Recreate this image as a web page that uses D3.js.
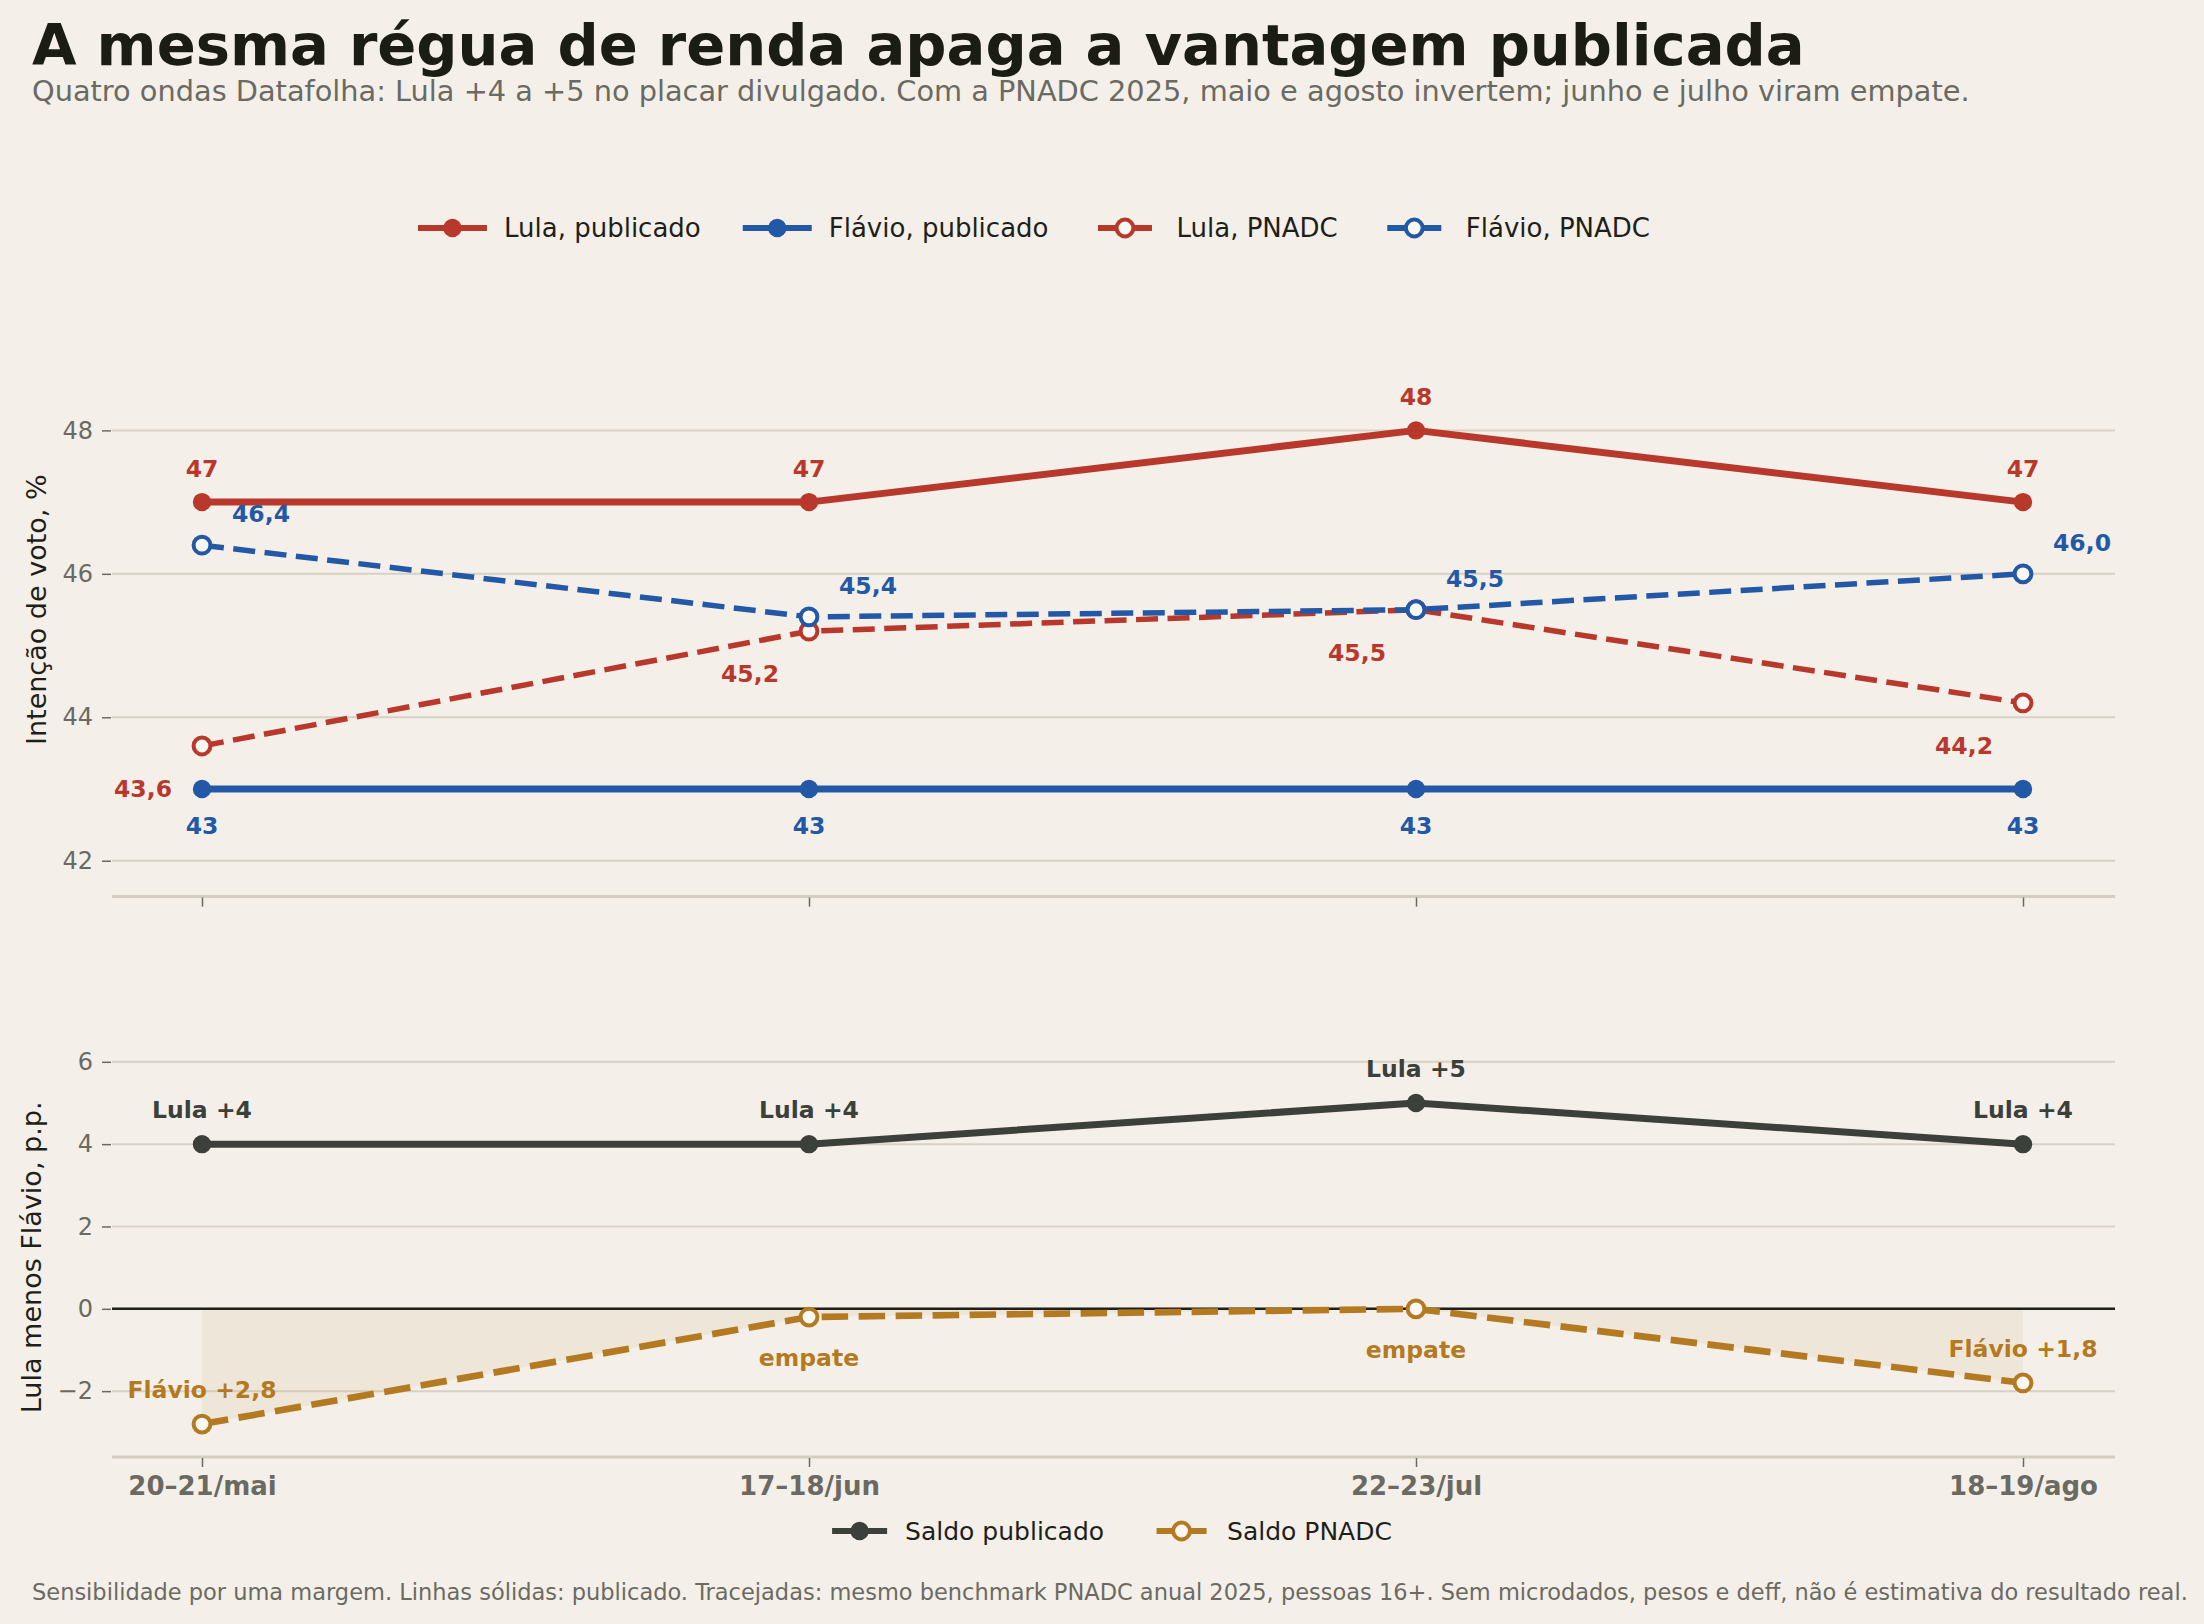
<!DOCTYPE html>
<html>
<head>
<meta charset="utf-8">
<script src="https://cdn.jsdelivr.net/npm/d3@7"></script>
<style>
  body { margin: 0; background: #f4f0e9; }
  text { font-family: "DejaVu Sans", sans-serif; }
</style>
</head>
<body>
<div id="chart"></div>
<script>
const width = 2204;
const height = 1624;

// data
const waves = ["20–21/mai", "17–18/jun", "22–23/jul", "18–19/ago"];
const lulaPublicado = [47, 47, 48, 47];
const flavioPublicado = [43, 43, 43, 43];
const lulaPnadc = [43.6, 45.2, 45.5, 44.2];
const flavioPnadc = [46.4, 45.4, 45.5, 46.0];
const saldoPublicado = [4, 4, 5, 4];
const saldoPnadc = [-2.8, -0.2, 0.0, -1.8];
const topTicks = [42, 44, 46, 48];
const bottomTicks = [-2, 0, 2, 4, 6];

const bg = "#f4f0e9";
const red = "#b9382c";
const blue = "#2358a6";
const dark = "#3c403a";
const gold = "#b47a22";
const grid = "#d9d1c4";
const gray = "#6b6a62";

const plotLeft = 112;
const plotRight = 2115;

const x = d3.scalePoint()
    .domain(waves)
    .range([202, 2023]);

const yTop = d3.scaleLinear()
    .domain([41.5, 49.5])
    .range([896.6, 322.8]);

const yBot = d3.scaleLinear()
    .domain([-3.6, 6.1])
    .range([1457, 1057.7]);

const comma = v => d3.format(".1f")(v).replace(".", ",");

const svg = d3.select("#chart")
    .append("svg")
        .attr("width", width)
        .attr("height", height)
        .style("background", bg);

// title + subtitle
svg.append("text")
    .attr("x", 32).attr("y", 65)
    .attr("font-size", 57.6).attr("font-weight", "bold")
    .attr("fill", "#1b1c14")
    .text("A mesma régua de renda apaga a vantagem publicada");

svg.append("text")
    .attr("x", 32).attr("y", 101)
    .attr("font-size", 28.8)
    .attr("fill", gray)
    .text("Quatro ondas Datafolha: Lula +4 a +5 no placar divulgado. Com a PNADC 2025, maio e agosto invertem; junho e julho viram empate.");

svg.append("text")
    .attr("x", 32).attr("y", 1600)
    .attr("font-size", 22.5)
    .attr("fill", gray)
    .text("Sensibilidade por uma margem. Linhas sólidas: publicado. Tracejadas: mesmo benchmark PNADC anual 2025, pessoas 16+. Sem microdados, pesos e deff, não é estimativa do resultado real.");

// panel frame helper
function panel(y, ticks, yLabel, labelX, showXLabels) {
    const g = svg.append("g");
    g.selectAll(".grid")
        .data(ticks)
        .join("line")
            .attr("x1", plotLeft).attr("x2", plotRight)
            .attr("y1", d => y(d)).attr("y2", d => y(d))
            .attr("stroke", grid).attr("stroke-width", 2);

    const yAxis = g.append("g")
        .attr("transform", `translate(${plotLeft - 1},0)`)
        .call(d3.axisLeft(y).tickValues(ticks).tickSize(9).tickPadding(9));
    yAxis.select(".domain").remove();
    yAxis.selectAll("line").attr("stroke", gray).attr("stroke-width", 1.5);
    yAxis.selectAll("text")
        .attr("font-size", 24).attr("fill", gray)
        .attr("font-family", "DejaVu Sans");

    const base = y.range()[0];
    g.append("line")
        .attr("x1", plotLeft).attr("x2", plotRight)
        .attr("y1", base).attr("y2", base)
        .attr("stroke", "#d5cdbf").attr("stroke-width", 3);

    const xAxis = g.append("g")
        .attr("transform", `translate(0,${base + 1})`)
        .call(d3.axisBottom(x).tickSize(9).tickPadding(10)
            .tickFormat(showXLabels ? null : ""));
    xAxis.select(".domain").remove();
    xAxis.selectAll("line").attr("stroke", gray).attr("stroke-width", 1.5);
    xAxis.selectAll("text")
        .attr("font-size", 26).attr("font-weight", "bold").attr("fill", gray)
        .attr("font-family", "DejaVu Sans");

    const mid = (y.range()[0] + y.range()[1]) / 2;
    g.append("text")
        .attr("transform", `translate(${labelX},${mid}) rotate(-90)`)
        .attr("text-anchor", "middle")
        .attr("dominant-baseline", "central")
        .attr("font-size", 27).attr("fill", "#1f1f1a")
        .text(yLabel);
    return g;
}

function series(g, y, values, color, dashed, lw, dash) {
    const line = d3.line()
        .x((d, i) => x(waves[i]))
        .y(d => y(d));
    g.append("path")
        .datum(values)
        .attr("fill", "none")
        .attr("stroke", color)
        .attr("stroke-width", lw)
        .attr("stroke-dasharray", dashed ? dash : null)
        .attr("stroke-linejoin", "round")
        .attr("d", line);
    g.selectAll(null)
        .data(values)
        .join("circle")
            .attr("cx", (d, i) => x(waves[i]))
            .attr("cy", d => y(d))
            .attr("r", dashed ? 8.4 : 9.2)
            .attr("fill", dashed ? "#fbf8f3" : color)
            .attr("stroke", color)
            .attr("stroke-width", dashed ? 4 : 0);
}

function labels(g, y, values, fmt, color, dx, dy, anchor) {
    g.selectAll(null)
        .data(values)
        .join("text")
            .attr("x", (d, i) => x(waves[i]) + dx)
            .attr("y", d => y(d) + (typeof dy === "function" ? dy(d) : dy))
            .attr("text-anchor", anchor)
            .attr("dominant-baseline", "central")
            .attr("font-size", 23.5).attr("font-weight", "bold")
            .attr("fill", color)
            .text(fmt);
}

// top panel
const topPanel = panel(yTop, topTicks, "Intenção de voto, %", 36, false);
series(topPanel, yTop, lulaPnadc, red, true, 5.5, "22,9.5");
series(topPanel, yTop, flavioPnadc, blue, true, 5.5, "22,9.5");
series(topPanel, yTop, lulaPublicado, red, false, 7);
series(topPanel, yTop, flavioPublicado, blue, false, 7);

labels(topPanel, yTop, lulaPublicado, d => d, red, 0, -33, "middle");
labels(topPanel, yTop, flavioPublicado, d => d, blue, 0, 37, "middle");
labels(topPanel, yTop, lulaPnadc, comma, red, -30, 43, "end");
labels(topPanel, yTop, flavioPnadc, comma, blue, 30, -31, "start");

// bottom panel
const botPanel = panel(yBot, bottomTicks, "Lula menos Flávio, p.p.", 31, true);

const area = d3.area()
    .x((d, i) => x(waves[i]))
    .y0(yBot(0))
    .y1(d => yBot(Math.min(d, 0)));
botPanel.append("path")
    .datum(saldoPnadc)
    .attr("fill", gold).attr("fill-opacity", 0.08)
    .attr("d", area);

botPanel.append("line")
    .attr("x1", plotLeft).attr("x2", plotRight)
    .attr("y1", yBot(0)).attr("y2", yBot(0))
    .attr("stroke", "#1f1f1a").attr("stroke-width", 2.5);

series(botPanel, yBot, saldoPublicado, dark, false, 7);
series(botPanel, yBot, saldoPnadc, gold, true, 6.7, "26.5,10.5");

labels(botPanel, yBot, saldoPublicado, d => "Lula +" + d, dark, 0, -34, "middle");
const saldoText = d => Math.abs(d) < 0.5 ? "empate"
    : (d < 0 ? "Flávio +" + comma(-d) : "Lula +" + comma(d));
labels(botPanel, yBot, saldoPnadc, saldoText, gold, 0, d => Math.abs(d) < 0.5 ? 41 : -34, "middle");

// legends
function legend(items, cy, centerX, handleLen, dashLen, textGap, itemGap, fontSize) {
    const g = svg.append("g");
    let cx = 0;
    items.forEach(it => {
        const item = g.append("g").attr("transform", `translate(${cx},0)`);
        const half = (it.dashed ? dashLen : handleLen) / 2;
        item.append("line")
            .attr("x1", handleLen / 2 - half).attr("x2", handleLen / 2 + half)
            .attr("y1", cy).attr("y2", cy)
            .attr("stroke", it.color).attr("stroke-width", 6);
        item.append("circle")
            .attr("cx", handleLen / 2).attr("cy", cy)
            .attr("r", it.dashed ? 8.4 : 9.2)
            .attr("fill", it.dashed ? "#fbf8f3" : it.color)
            .attr("stroke", it.color).attr("stroke-width", it.dashed ? 4 : 0);
        const t = item.append("text")
            .attr("x", handleLen + textGap).attr("y", cy)
            .attr("dominant-baseline", "central")
            .attr("font-size", fontSize).attr("fill", "#1f1f1a")
            .text(it.name);
        cx += handleLen + textGap + t.node().getComputedTextLength() + itemGap;
    });
    const total = cx - itemGap;
    g.attr("transform", `translate(${centerX - total / 2},0)`);
}

legend([
    { name: "Lula, publicado", color: red, dashed: false },
    { name: "Flávio, publicado", color: blue, dashed: false },
    { name: "Lula, PNADC", color: red, dashed: true },
    { name: "Flávio, PNADC", color: blue, dashed: true }
], 228, 1034, 69, 54, 17, 42, 26);

legend([
    { name: "Saldo publicado", color: dark, dashed: false },
    { name: "Saldo PNADC", color: gold, dashed: true }
], 1531, 1112, 55, 50, 18, 50, 25);
</script>
</body>
</html>
